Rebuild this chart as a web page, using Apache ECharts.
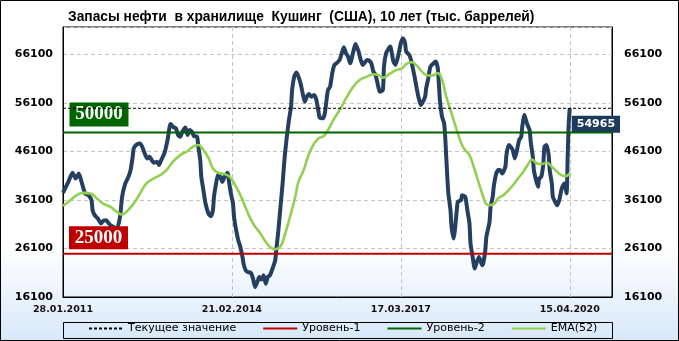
<!DOCTYPE html>
<html><head><meta charset="utf-8">
<script src="https://cdn.jsdelivr.net/npm/echarts@6/dist/echarts.min.js"></script>
<style>html,body{margin:0;padding:0;background:#fff}#c{width:679px;height:341px}</style>
</head><body><div id="c"></div>
<script>
// Weekly index (0 = 28.01.2011) and stocks, thousand barrels
const weeks = [0,5,9,12,15,18,21,24,27,28,30,33,36,38,41,43,45,48,51,54,56,59,62,64,66,67,70,73,75,78,80,82,84,86,89,91,93,96,99,101,102,104,107,109,111,113,116,118,120,122,124,127,128,130,131,133,135,138,140,142,143,145,147,149,151,153,156,157,159,161,162,164,166,168,170,171,173,175,178,180,182,184,186,188,190,192,194,196,199,201,202,204,206,208,210,212,214,216,217,219,221,223,225,227,229,231,233,235,238,240,242,243,246,248,250,251,253,255,257,259,262,264,266,268,270,272,275,277,280,282,284,288,290,292,294,296,299,300,303,304,306,308,310,312,313,315,318,320,322,324,325,328,330,332,333,335,337,339,341,343,344,346,348,351,353,355,356,357,359,361,362,363,364,365,367,368,370,371,373,374,377,378,381,383,385,386,388,390,392,394,397,398,400,401,404,405,407,408,410,412,414,416,419,420,422,424,426,428,430,432,434,435,437,438,440,442,443,445,446,448,450,451,453,455,456,458,460,461,463,464,467,468,470,472,473,475,477,478,479,480];
const stocks = [37550,39800,41680,40510,41540,39480,37420,37070,36040,33980,32950,32260,31230,31780,31910,31370,30880,30540,30060,32600,36730,39480,40850,42230,44980,46700,47520,47730,47040,45320,44640,44980,44290,43740,43950,43260,44290,45670,48420,51170,51720,51170,50820,49450,49100,50140,51030,49450,50480,50140,49240,49100,47390,44290,40850,38100,35350,33150,32740,33980,36730,39480,41400,40850,39820,40850,41680,40170,37420,35350,32600,29850,27790,26410,24350,22980,21600,21260,21050,19880,18160,19190,20230,19680,20570,18850,20230,20570,22290,23660,25730,29850,34670,39480,44980,49100,52540,55290,58730,61480,62310,61480,60110,58040,56320,57360,57910,57360,57700,56670,54260,53090,52890,53920,57360,58730,59420,62170,63890,64230,64920,66290,67530,66290,65610,64230,66640,68220,66640,64920,63890,64920,64780,64230,62510,61830,59080,58390,58730,63540,66290,67120,67670,65610,64580,63890,66290,68360,69390,68360,66640,65950,64580,62510,61480,59080,57010,55640,56320,57360,59080,61140,63540,64230,64580,63200,60110,56670,53230,51860,49100,44980,40850,37420,33980,30540,28130,29510,33980,35700,36040,37070,36730,33980,31230,27100,24350,21950,23320,24350,22630,22980,25730,28480,31570,34670,36730,38790,41200,42230,42230,41540,42920,45320,47390,47040,46350,44640,46350,48420,49100,51170,53570,52890,51510,50480,48070,44980,42230,40170,38790,40510,40850,43600,47040,47390,45320,42230,39480,36730,35350,35010,36040,38100,38790,39480,37420,44980,51860,54965];
const emaWeeks = [0,7,13,19,26,32,38,45,51,56,60,67,73,79,86,92,98,104,111,117,123,128,133,138,142,147,153,158,163,168,174,180,187,191,196,201,206,210,215,220,223,228,232,237,242,247,251,256,262,269,275,281,288,294,299,303,310,316,321,326,330,335,340,344,349,355,359,363,368,373,378,381,385,389,392,395,398,401,404,408,412,417,422,427,431,436,441,444,449,453,458,463,468,472,476,480];
const emaValues = [34870,36040,37070,37550,37420,36390,35350,34670,33630,33080,33630,35350,37420,39480,40510,41200,42230,43950,45320,46010,47040,47390,46350,44640,42570,41680,41400,40850,39130,37070,33980,31230,29160,27790,26410,25930,26550,28820,32600,36730,39820,42230,44980,47390,48760,49240,50480,52540,54610,57360,59420,60790,61480,61960,61830,61270,62170,62860,63200,64230,64440,63750,62510,61830,61690,62170,60790,57360,53920,50480,47390,46350,45320,42920,40850,38790,36730,35220,35010,35220,36390,37070,38100,39340,40510,41890,43600,44430,43600,43470,43740,42920,41890,41200,40990,41680];
const xTickWeeks = [0,160,320,480];
const xTickLabels = ['28.01.2011','21.02.2014','17.03.2017','15.04.2020'];
const level1 = 25000;
const level2 = 50000;
const currentValue = 54965;
const xMax = 520;
const yMin = 16100, yMax = 71700, yStep = 10000;

const chart = echarts.init(document.getElementById('c'), null, {renderer:'canvas'});
const mainData = weeks.map((w,i)=>[w, stocks[i]]);
const emaData = emaWeeks.map((w,i)=>[w, emaValues[i]]);
const span = v => [[0, v],[xMax, v]];
const yLab = {fontFamily:'DejaVu Sans', fontWeight:'bold', fontSize:11, color:'#000',
  formatter: v => ((v - yMin) % yStep === 0 ? String(v) : '')};
const tagLabel = txt => ({show:true, position:'inside', formatter: txt, color:'#fff',
  fontFamily:'Liberation Serif', fontWeight:'bold', fontSize:19});

chart.setOption({
  animation:false,
  backgroundColor: new echarts.graphic.LinearGradient(0,0,0,1,[
    {offset:0,color:'#ffffff'},{offset:0.72,color:'#ffffff'},{offset:1,color:'#d7e8f9'}]),
  title:{text:'Запасы нефти  в хранилище  Кушинг  (США), 10 лет (тыс. баррелей)', left:63, top:5,
    textStyle:{fontFamily:'Liberation Sans', fontWeight:'bold', fontSize:13.8, color:'#000'}},
  grid:{left:63, right:67, top:27, bottom:44, show:true, borderColor:'#000', borderWidth:1},
  legend:{data:['Текущее значение','Уровень-1','Уровень-2','EMA(52)'], left:88, top:323,
    itemWidth:34, itemHeight:14, itemGap:26, padding:0,
    itemStyle:{opacity:0, borderWidth:0},
    textStyle:{fontFamily:'DejaVu Sans', fontSize:11, color:'#000'}},
  xAxis:{type:'value', min:0, max:xMax, interval:160,
    axisLine:{show:true, lineStyle:{color:'#000'}}, axisTick:{show:false},
    splitLine:{show:true, lineStyle:{color:'#c4c4c4', type:[4,3]}},
    axisLabel:{margin:8, fontFamily:'DejaVu Sans', fontWeight:'bold', fontSize:9.5, color:'#111',
      formatter: v => { const k = xTickWeeks.indexOf(v); return k >= 0 ? xTickLabels[k] : ''; }}},
  yAxis:[
    {type:'value', min:yMin, max:yMax, interval:yStep, position:'left',
      axisLine:{show:true, lineStyle:{color:'#000'}}, axisTick:{show:false},
      splitLine:{show:true, lineStyle:{color:'#c4c4c4', type:[4,3]}},
      axisLabel:Object.assign({margin:10}, yLab)},
    {type:'value', min:yMin, max:yMax, interval:yStep, position:'right',
      axisLine:{show:true, lineStyle:{color:'#000'}}, axisTick:{show:false},
      splitLine:{show:false},
      axisLabel:Object.assign({margin:12}, yLab)}
  ],
  graphic:{elements:[
    {type:'rect', shape:{x:0.5, y:0.5, width:678, height:340},
      style:{fill:'none', stroke:'#000', lineWidth:1}, z:100, silent:true},
    {type:'rect', shape:{x:63.5, y:322.5, width:549, height:16},
      style:{fill:'none', stroke:'#000', lineWidth:1}, z:100, silent:true}
  ]},
  series:[
    {name:'Запасы', type:'line', data:mainData, symbol:'none', smooth:0.2,
      lineStyle:{color:'#243f60', width:4}, itemStyle:{color:'#243f60'}, z:3,
      endLabel:{show:true, formatter: p => String(p.value[1]), distance:2, offset:[0,16],
        backgroundColor:'#1f3a5f', color:'#fff', fontFamily:'DejaVu Sans', fontWeight:'bold', fontSize:11,
        padding:[3,5,3,5]}},
    {name:'EMA(52)', type:'line', data:emaData, symbol:'none', smooth:true,
      lineStyle:{color:'#92d050', width:2.6}, itemStyle:{color:'#92d050'}, z:4},
    {name:'Уровень-1', type:'line', data:span(level1), symbol:'none',
      lineStyle:{color:'#c00000', width:2}, itemStyle:{color:'#c00000'}, z:5,
      markPoint:{silent:true, data:[{coord:[0, level1], symbol:'rect', symbolSize:[59,23], symbolOffset:[35.5,-16],
        itemStyle:{color:'#c00000'}, label:tagLabel(String(level1))}]}},
    {name:'Уровень-2', type:'line', data:span(level2), symbol:'none',
      lineStyle:{color:'#006400', width:2}, itemStyle:{color:'#006400'}, z:5,
      markPoint:{silent:true, data:[{coord:[0, level2], symbol:'rect', symbolSize:[59,24], symbolOffset:[36,-18],
        itemStyle:{color:'#006400'}, label:tagLabel(String(level2))}]}},
    {name:'Текущее значение', type:'line', data:span(currentValue), symbol:'none',
      lineStyle:{color:'#000', width:1, type:[3,2]}, itemStyle:{color:'#000'}, z:6}
  ]
});
</script></body></html>
